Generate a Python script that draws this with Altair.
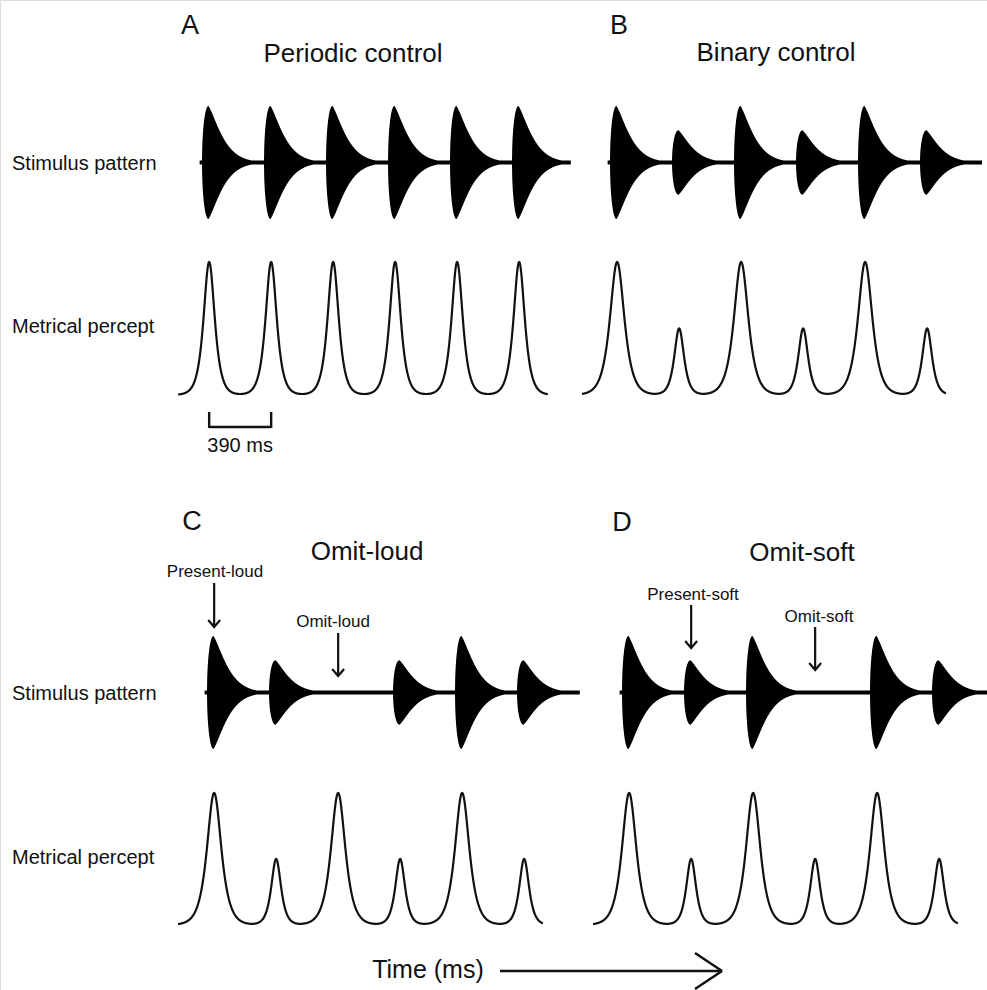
import numpy as np
import pandas as pd
import altair as alt

# ---------------- beat structure ----------------
IOI_MS = 390
ONSETS_MS = [0, 390, 780, 1170, 1560, 1950]

# relative tone amplitude on each beat (0 = tone omitted)
AMP_PERIODIC = [1.0, 1.0, 1.0, 1.0, 1.0, 1.0]
AMP_BINARY = [1.0, 0.57, 1.0, 0.57, 1.0, 0.57]
AMP_OMIT_LOUD = [1.0, 0.57, 0.0, 0.57, 1.0, 0.57]
AMP_OMIT_SOFT = [1.0, 0.57, 1.0, 0.0, 1.0, 0.57]

# metrical-percept peak strength and width (ms) on each beat
PERCEPT_PERIODIC = [1.0, 1.0, 1.0, 1.0, 1.0, 1.0]
PERCEPT_BINARY = [1.0, 0.5, 1.0, 0.5, 1.0, 0.5]
WIDTH_PERIODIC = [31, 31, 31, 31, 31, 31]
WIDTH_BINARY = [40, 27, 40, 27, 40, 27]

PANEL_LETTERS = ["A", "B", "C", "D"]
PANEL_TITLES = ["Periodic control", "Binary control", "Omit-loud", "Omit-soft"]

# time spans (ms) of the drawn waveform and percept curve per panel
STIM_SPANS = [[-15, 2320], [-15, 2340], [-15, 2345], [-15, 2345]]
PERCEPT_SPANS = [[-150, 2175], [-176, 2113], [-182, 2113], [-182, 2113]]

# tone envelope: fast rounded attack up to RISE_MS, stretched-exponential decay
RISE_MS = 40.0
DECAY_MS = 108.0
DECAY_POWER = 1.3
FLOOR = 0.036
# percept peaks sit slightly after tone onset
PERCEPT_LAG_MS = 45.0

INK = "#111111"
FONT = "Liberation Sans"
PX_PER_MS = 62.0 / 390.0


def envelope(t, amps):
    env = np.zeros_like(t)
    for on, a in zip(ONSETS_MS, amps):
        d = t - on
        g = np.zeros_like(t)
        rise = (d > 0) & (d < RISE_MS)
        g[rise] = np.sqrt(1.0 - (1.0 - d[rise] / RISE_MS) ** 2)
        fall = d >= RISE_MS
        g[fall] = np.exp(-(((d[fall] - RISE_MS) / DECAY_MS) ** DECAY_POWER))
        env = np.maximum(env, a * g)
    return np.maximum(env, FLOOR)


def percept(t, heights, widths):
    p = np.zeros_like(t)
    for on, h, w in zip(ONSETS_MS, heights, widths):
        p += h / np.cosh((t - on - PERCEPT_LAG_MS) / w)
    return p


def x_scale(x0):
    return alt.Scale(domain=[-400, 2600],
                     range=[x0 - 400 * PX_PER_MS, x0 + 2600 * PX_PER_MS],
                     nice=False, zero=False)


def stim_scale(base):
    return alt.Scale(domain=[-1, 1], range=[base + 56.5, base - 56.5], nice=False, zero=False)


def percept_scale(base, top):
    return alt.Scale(domain=[0, 1], range=[base, top], nice=False, zero=False)


ONE = pd.DataFrame({"k": [0]})


def label(text, x, y, size, align="center"):
    return alt.Chart(ONE).mark_text(
        text=text, fontSize=size, align=align, baseline="alphabetic",
        font=FONT, color=INK
    ).encode(x=alt.value(x), y=alt.value(y))


panels = [
    dict(amps=AMP_PERIODIC, heights=PERCEPT_PERIODIC, widths=WIDTH_PERIODIC,
         x0=202, stim_base=162.5, p_base=395, p_top=262),
    dict(amps=AMP_BINARY, heights=PERCEPT_BINARY, widths=WIDTH_BINARY,
         x0=610, stim_base=162.5, p_base=395, p_top=262),
    dict(amps=AMP_OMIT_LOUD, heights=PERCEPT_BINARY, widths=WIDTH_BINARY,
         x0=207, stim_base=692.5, p_base=925, p_top=793),
    dict(amps=AMP_OMIT_SOFT, heights=PERCEPT_BINARY, widths=WIDTH_BINARY,
         x0=622, stim_base=692.5, p_base=925, p_top=793),
]

CHEVRON_DOWN = "M-0.85,-1L0,0L0.85,-1"


def arrow(beat, y_top, y_tip, xs):
    d = pd.DataFrame({"t": [ONSETS_MS[beat] + PERCEPT_LAG_MS]})
    shaft = alt.Chart(d).mark_rule(color=INK, strokeWidth=2.2).encode(
        x=alt.X("t:Q", scale=xs, axis=None), y=alt.value(y_top), y2=alt.value(y_tip))
    head = alt.Chart(d).mark_point(shape=CHEVRON_DOWN, size=196, filled=False,
                                   strokeWidth=2.2, color=INK, opacity=1).encode(
        x=alt.X("t:Q", scale=xs, axis=None), y=alt.value(y_tip))
    return [shaft, head]


groups = []
for i, p in enumerate(panels):
    xs = x_scale(p["x0"])
    ts = np.arange(STIM_SPANS[i][0], STIM_SPANS[i][1] + 1, 1.0)
    env = envelope(ts, p["amps"])
    stim_df = pd.DataFrame({"t": ts, "hi": env, "lo": -env})
    stim = alt.Chart(stim_df).mark_area(color="black", interpolate="linear").encode(
        x=alt.X("t:Q", scale=xs, axis=None),
        y=alt.Y("hi:Q", scale=stim_scale(p["stim_base"]), axis=None),
        y2="lo:Q",
    )
    stim_layers = [stim]
    if i == 2:
        stim_layers += arrow(0, 583, 627, xs) + arrow(2, 633, 676, xs)
    if i == 3:
        stim_layers += arrow(1, 605, 648, xs) + arrow(3, 627, 670, xs)
    groups.append(alt.layer(*stim_layers))

    tp = np.arange(PERCEPT_SPANS[i][0], PERCEPT_SPANS[i][1] + 1, 1.0)
    perc_df = pd.DataFrame({"t": tp, "p": percept(tp, p["heights"], p["widths"])})
    perc = alt.Chart(perc_df).mark_line(color=INK, strokeWidth=2.2).encode(
        x=alt.X("t:Q", scale=xs, axis=None),
        y=alt.Y("p:Q", scale=percept_scale(p["p_base"], p["p_top"]), axis=None),
    )
    perc_layers = [perc]
    if i == 0:
        # 390 ms scale bracket between the first two percept peaks
        bar = pd.DataFrame({"t0": [PERCEPT_LAG_MS], "t1": [PERCEPT_LAG_MS + IOI_MS]})
        ends = pd.DataFrame({"t": [PERCEPT_LAG_MS, PERCEPT_LAG_MS + IOI_MS]})
        mid = pd.DataFrame({"t": [PERCEPT_LAG_MS + IOI_MS / 2]})
        perc_layers += [
            alt.Chart(bar).mark_rule(color=INK, strokeWidth=2.4).encode(
                x=alt.X("t0:Q", scale=xs, axis=None), x2="t1:Q", y=alt.value(427)),
            alt.Chart(ends).mark_rule(color=INK, strokeWidth=2.4).encode(
                x=alt.X("t:Q", scale=xs, axis=None), y=alt.value(412), y2=alt.value(428)),
            alt.Chart(mid).mark_text(text=f"{IOI_MS} ms", fontSize=20, font=FONT, color=INK,
                                     baseline="alphabetic").encode(
                x=alt.X("t:Q", scale=xs, axis=None), y=alt.value(452)),
        ]
    groups.append(alt.layer(*perc_layers))

texts = [
    label(PANEL_LETTERS[0], 190, 34, 27), label(PANEL_LETTERS[1], 619, 34, 27),
    label(PANEL_LETTERS[2], 192, 530, 27), label(PANEL_LETTERS[3], 622, 531, 27),
    label(PANEL_TITLES[0], 353, 62, 26), label(PANEL_TITLES[1], 776, 61, 26),
    label(PANEL_TITLES[2], 367, 560, 26), label(PANEL_TITLES[3], 802, 561, 26),
    label("Stimulus pattern", 12, 170, 20, "left"), label("Metrical percept", 12, 333, 20, "left"),
    label("Stimulus pattern", 12, 700, 20, "left"), label("Metrical percept", 12, 864, 20, "left"),
    label("Present-loud", 215, 577, 17), label("Omit-loud", 333, 627, 17),
    label("Present-soft", 693, 600, 17), label("Omit-soft", 819, 622, 17),
    label("Time (ms)", 428, 978, 25),
]

# time arrow along the bottom
time_arrow = [
    alt.Chart(ONE).mark_rule(color=INK, strokeWidth=2.4).encode(
        x=alt.value(500), x2=alt.value(722), y=alt.value(971)),
    alt.Chart(ONE).mark_rule(color=INK, strokeWidth=2.4).encode(
        x=alt.value(695), x2=alt.value(722), y=alt.value(953), y2=alt.value(971)),
    alt.Chart(ONE).mark_rule(color=INK, strokeWidth=2.4).encode(
        x=alt.value(695), x2=alt.value(722), y=alt.value(989), y2=alt.value(971)),
]

chart = alt.layer(*groups, *texts, *time_arrow).resolve_scale(
    x="independent", y="independent"
).properties(
    width=987, height=990, padding=0,
    autosize=alt.AutoSizeParams(type="none"),
).configure_view(stroke=None).configure(background="white")

chart.save("out.html", embed_options={"renderer": "svg", "actions": False})
